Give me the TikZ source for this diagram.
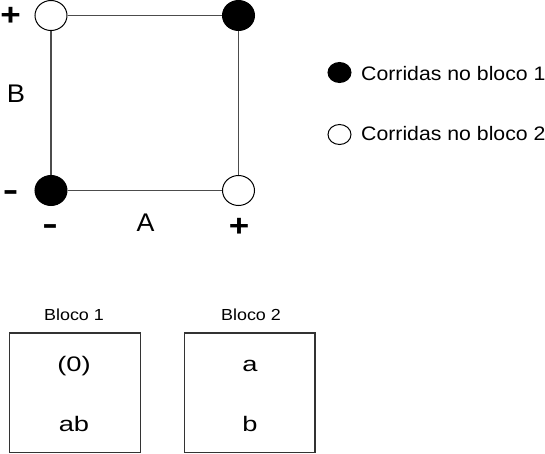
\documentclass[tikz,border=0pt]{standalone}
\usepackage{fontspec}
\setmainfont{Liberation Sans}
\usetikzlibrary{shapes.geometric}
\newcommand{\widetxt}[2]{\scalebox{#1}[1]{#2}}
\begin{document}
\begin{tikzpicture}[x=1pt,y=-1pt,
  run/.style={ellipse,draw=black,line width=1pt,minimum width=32pt,minimum height=30pt,inner sep=0pt},
  full/.style={run,fill=black},
  empty/.style={run,fill=white},
  legrun/.style={ellipse,draw=black,line width=1pt,minimum width=23pt,minimum height=20pt,inner sep=0pt},
  edge/.style={draw=black!70,line width=1.4pt},
  sign/.style={font=\fontsize{31}{33}\selectfont\bfseries,inner sep=0pt,anchor=base},
  lbl/.style={font=\fontsize{25.5}{28}\selectfont,inner sep=0pt,anchor=base},
  leg/.style={font=\fontsize{19.5}{22}\selectfont,anchor=base west,inner sep=0pt},
  blk/.style={draw=black!80,line width=1.3pt,inner sep=0pt},
  ttl/.style={font=\fontsize{16}{18}\selectfont,inner sep=0pt,anchor=base},
  val/.style={font=\fontsize{21}{24}\selectfont,inner sep=0pt,anchor=base}]
\useasboundingbox (0,0) rectangle (545,453);
% square
\node[empty] (tl) at (51,15.5) {};
\node[full] (tr) at (238.5,15.5) {};
\node[full] (bl) at (51,190.5) {};
\node[empty] (br) at (238.5,190.5) {};
\draw[edge] (tl) -- (tr);
\draw[edge] (tr) -- (br);
\draw[edge] (br) -- (bl);
\draw[edge] (bl) -- (tl);
% axis labels
\node[sign] (pB) at (10.5,25.5) {\widetxt{1.13}{+}};
\node[lbl] (B) at (16,102) {\widetxt{1.07}{B}};
\node[sign] (mB) at (10.5,200.5) {\widetxt{1.5}{-}};
\node[sign] (mA) at (50,234) {\widetxt{1.5}{-}};
\node[lbl] (A) at (145.5,231.7) {\widetxt{1.05}{A}};
\node[sign] (pA) at (239,236) {\widetxt{1.13}{+}};
% legend
\node[legrun,fill=black] (l1) at (339.5,72.5) {};
\node[leg] (t1) at (361,80) {\widetxt{1.09}{Corridas no bloco 1}};
\node[legrun,fill=white] (l2) at (339.5,134.5) {};
\node[leg] (t2) at (361,140) {\widetxt{1.09}{Corridas no bloco 2}};
% blocks
\node[ttl] (b1t) at (74,320) {\widetxt{1.12}{Bloco 1}};
\node[ttl] (b2t) at (251,320) {\widetxt{1.12}{Bloco 2}};
\draw[blk] (9.5,333) rectangle (140.5,452.5);
\draw[blk] (184.5,333) rectangle (315,452.5);
\node[val] (z) at (74,371) {\widetxt{1.3}{(0)}};
\node[val] (ab) at (74,431.5) {\widetxt{1.3}{ab}};
\node[val] (a) at (250,371) {\widetxt{1.3}{a}};
\node[val] (b) at (250,431.5) {\widetxt{1.3}{b}};
\end{tikzpicture}
\end{document}
